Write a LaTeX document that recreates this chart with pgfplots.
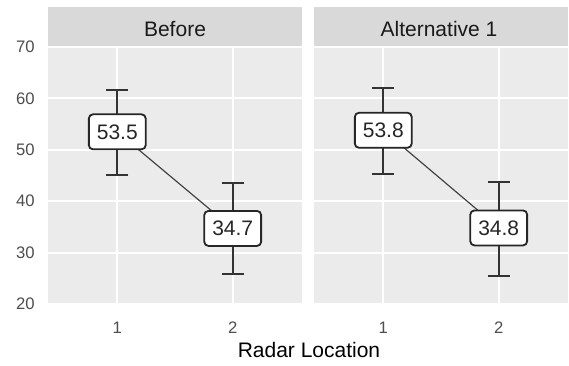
\documentclass[border=0pt]{standalone}
\usepackage{pgfplots}
\pgfplotsset{compat=1.18}
\usepackage{fontspec}
\setmainfont{Liberation Sans}
\definecolor{panelbg}{HTML}{EBEBEB}
\definecolor{stripbg}{HTML}{D9D9D9}
\definecolor{ticktext}{HTML}{4D4D4D}
\definecolor{stripfg}{HTML}{1A1A1A}
\newlength{\pu}\setlength{\pu}{0.6pt}
\pgfplotsset{
 facet/.style={
  scale only axis, width=254\pu, height=257\pu,
  xmin=0.4, xmax=2.6, ymin=20, ymax=70,
  xtick={1,2}, ytick={20,30,...,70},
  axis background/.style={fill=panelbg},
  axis line style={draw=none},
  grid=major, major grid style={white, line width=1.1pt},
  major tick length=0pt,
  tick label style={font=\fontsize{10}{11}\selectfont, text=ticktext},
  xticklabel style={anchor=north, inner sep=0pt, yshift=-10.8pt},
  yticklabel style={anchor=east, inner sep=0pt, xshift=-7.8pt},
  /pgf/number format/assume math mode=true,
  clip=false,
 },
 connect/.style={color=black!75, line width=0.7pt},
 ebars/.style={only marks, mark=none, black!80,
   error bars/.cd, y dir=both, y explicit, error mark=|,
   error bar style={line width=1.2pt, black!80},
   error mark options={mark size=6.6pt, line width=1.2pt, black!80}},
 lbls/.style={only marks, mark=none, point meta=explicit symbolic, nodes near coords,
   nodes near coords style={anchor=center, draw=black!85, line width=1.1pt, fill=white,
   rounded corners=2.5pt, font=\fontsize{12.6}{13}\selectfont, text=black!85,
   inner xsep=4.8pt, inner ysep=0pt, minimum height=21pt}},
}
\begin{document}
\begin{tikzpicture}
\path[use as bounding box] (0,0) rectangle (569\pu,366\pu);
% strips
\fill[stripbg] (48\pu,319\pu) rectangle (302\pu,359\pu);
\fill[stripbg] (314\pu,319\pu) rectangle (568\pu,359\pu);
\node[anchor=base, font=\fontsize{12.6}{13}\selectfont, text=stripfg] at (175\pu,329\pu) {Before};
\node[anchor=base, font=\fontsize{12.6}{13}\selectfont, text=stripfg] at (439\pu,329\pu) {Alternative 1};
% left panel
\begin{axis}[facet, at={(48\pu,62\pu)}, anchor=south west]
\addplot[connect] coordinates {(1,53.5) (2,34.7)};
\addplot[ebars] coordinates {(1,53.5) += (0,8.2) -= (0,8.4) (2,34.7) += (0,8.8) -= (0,8.9)};
\addplot[lbls] coordinates {(1,53.5) [53.5] (2,34.7) [34.7]};
\end{axis}
% right panel
\begin{axis}[facet, at={(314\pu,62\pu)}, anchor=south west, yticklabels={}]
\addplot[connect] coordinates {(1,53.8) (2,34.8)};
\addplot[ebars] coordinates {(1,53.8) += (0,8.3) -= (0,8.6) (2,34.8) += (0,9.0) -= (0,9.4)};
\addplot[lbls] coordinates {(1,53.8) [53.8] (2,34.8) [34.8]};
\end{axis}
\node[anchor=base, font=\fontsize{12.6}{13}\selectfont] at (309\pu,8\pu) {Radar Location};
\end{tikzpicture}
\end{document}
